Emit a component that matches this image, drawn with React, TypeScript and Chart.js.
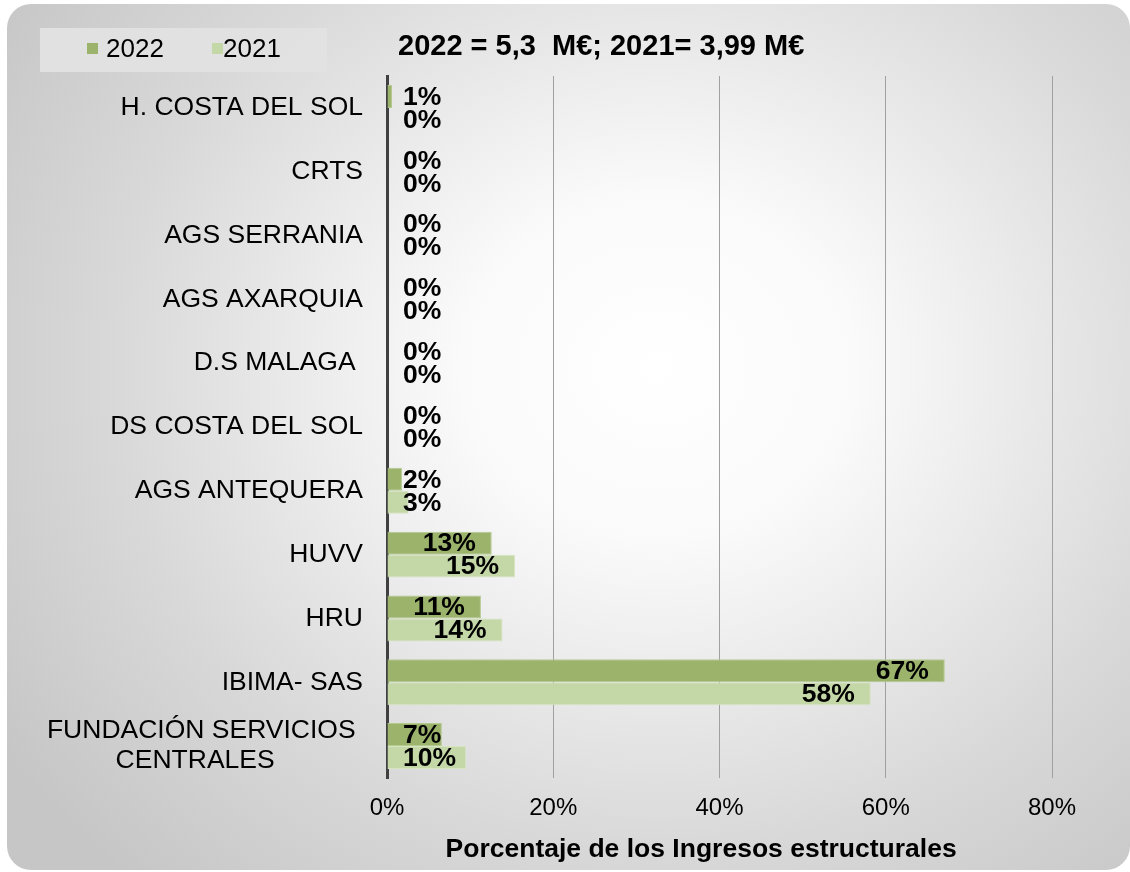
import React, { useEffect, useRef } from "react";
import { Chart, registerables } from "chart.js";

Chart.register(...registerables);

const categories: (string | string[])[] = [
  "H. COSTA DEL SOL",
  "CRTS",
  "AGS SERRANIA",
  "AGS AXARQUIA",
  "D.S MALAGA ",
  "DS COSTA DEL SOL",
  "AGS ANTEQUERA",
  "HUVV",
  "HRU",
  "IBIMA- SAS",
  ["FUNDACIÓN SERVICIOS ", "CENTRALES            "],
];

const values2022 = [0.6, 0, 0, 0, 0, 0, 1.8, 12.6, 11.3, 67.1, 6.6];
const values2021 = [0, 0, 0, 0, 0, 0, 2.6, 15.4, 13.9, 58.2, 9.5];

const seriesLabels = ["2022", "2021"];
const seriesColors = ["#9bb36b", "#c4d7a7"];
const seriesBorders = ["#b4c98e", "#d6e4c2"];

const xTicks = [0, 20, 40, 60, 80];
const headerTitle = "2022 = 5,3  M€; 2021= 3,99 M€";
const xAxisTitle = "Porcentaje de los Ingresos estructurales     ";

const FONT = 'Arial, "Liberation Sans", sans-serif';

const overlayPlugin = {
  id: "overlay",
  beforeDraw(chart: any) {
    const ctx = chart.ctx;
    ctx.save();
    // legend box
    ctx.fillStyle = "rgba(226,226,226,0.95)";
    ctx.fillRect(40, 28, 287, 44);
    ctx.font = `26px ${FONT}`;
    ctx.textBaseline = "middle";
    ctx.textAlign = "left";
    const items = [
      { x: 87, tx: 106 },
      { x: 212, tx: 223 },
    ];
    items.forEach((it, i) => {
      ctx.fillStyle = seriesColors[i];
      ctx.fillRect(it.x, 43, 11, 11);
      ctx.fillStyle = "#000";
      ctx.fillText(seriesLabels[i], it.tx, 50);
    });
    // header title
    ctx.font = `bold 29px ${FONT}`;
    ctx.fillStyle = "#000";
    ctx.fillText(headerTitle, 398, 47);
    ctx.restore();
  },
  afterDatasetsDraw(chart: any) {
    const ctx = chart.ctx;
    const x0 = chart.scales.x.getPixelForValue(0);
    ctx.save();
    ctx.font = `bold 26.5px ${FONT}`;
    ctx.fillStyle = "#000";
    ctx.textAlign = "right";
    ctx.textBaseline = "middle";
    chart.data.datasets.forEach((ds: any, i: number) => {
      const meta = chart.getDatasetMeta(i);
      meta.data.forEach((bar: any, j: number) => {
        const text = Math.round(ds.data[j]) + "%";
        const w = ctx.measureText(text).width;
        const right = Math.max(bar.x - 16, x0 + 16 + w);
        ctx.fillText(text, right, bar.y + 1);
      });
    });
    ctx.restore();
  },
};

export default function App() {
  const canvasRef = useRef<HTMLCanvasElement | null>(null);

  useEffect(() => {
    document.body.style.margin = "0";
    const canvas = canvasRef.current;
    if (!canvas) return;
    const chart = new Chart(canvas, {
      type: "bar",
      data: {
        labels: categories,
        datasets: [
          {
            label: seriesLabels[0],
            data: values2022,
            backgroundColor: seriesColors[0],
            borderColor: seriesBorders[0],
            borderWidth: 1,
            categoryPercentage: 0.72,
            barPercentage: 1,
          },
          {
            label: seriesLabels[1],
            data: values2021,
            backgroundColor: seriesColors[1],
            borderColor: seriesBorders[1],
            borderWidth: 1,
            categoryPercentage: 0.72,
            barPercentage: 1,
          },
        ],
      },
      options: {
        indexAxis: "y",
        responsive: false,
        maintainAspectRatio: false,
        animation: false,
        layout: { padding: { left: 0, top: 76, right: 78, bottom: 0 } },
        plugins: {
          legend: { display: false },
          title: { display: false },
          tooltip: { enabled: false },
        },
        scales: {
          x: {
            min: 0,
            max: 80,
            afterBuildTicks: (scale: any) => {
              scale.ticks = xTicks.map((v) => ({ value: v }));
            },
            ticks: {
              callback: (v: any) => v + "%",
              font: { family: FONT, size: 24 },
              color: "#000",
              padding: 16,
              maxRotation: 0,
            },
            grid: { color: "#a0a0a0", lineWidth: 1, drawTicks: false },
            border: { display: false },
            title: {
              display: true,
              text: xAxisTitle,
              color: "#000",
              font: { family: FONT, size: 26.5, weight: "bold" },
              padding: { top: 4, bottom: 6 },
            },
            afterFit: (scale: any) => {
              scale.height = 94;
            },
          },
          y: {
            ticks: {
              font: { family: FONT, size: 26.5, lineHeight: 1.13 },
              color: "#000",
              padding: 24,
            },
            grid: { display: false, drawTicks: false },
            border: { display: true, color: "#404040", width: 3 },
            afterFit: (scale: any) => {
              scale.width = 387;
            },
          },
        },
      } as any,
      plugins: [overlayPlugin],
    });
    return () => chart.destroy();
  }, []);

  return (
    <div style={{ position: "relative", width: 1130, height: 872, overflow: "hidden", background: "#fff" }}>
      <div
        style={{
          position: "absolute",
          left: 7,
          top: 4,
          width: 1123,
          height: 866,
          borderRadius: 24,
          background:
            "radial-gradient(ellipse 70% 80% at 58% 42%, #ffffff 0%, #fafafa 25%, #d8d8d8 70%, #c6c6c6 100%)",
        }}
      />
      <canvas
        ref={canvasRef}
        width={1130}
        height={872}
        style={{ position: "absolute", left: 0, top: 0, width: 1130, height: 872 }}
      />
    </div>
  );
}
